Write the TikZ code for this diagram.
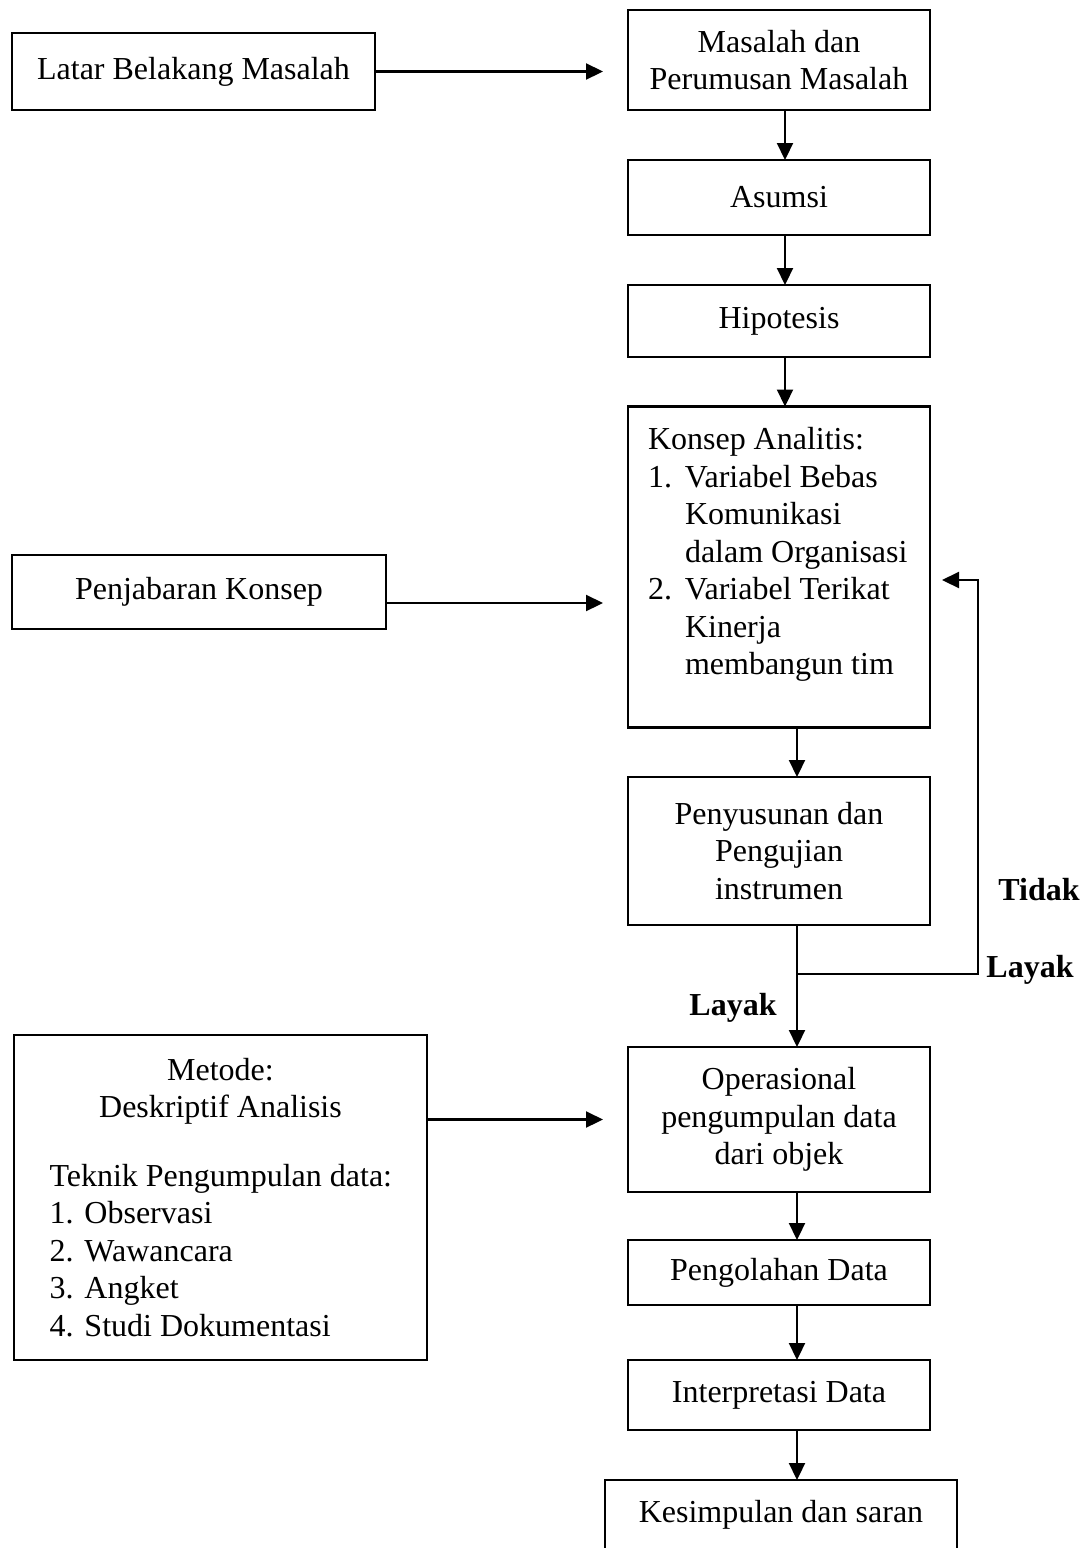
\documentclass[tikz,border=0pt]{standalone}
\usepackage{fontspec}
\setmainfont{Liberation Serif}
\usetikzlibrary{arrows.meta}
\begin{document}
\begin{tikzpicture}[x=1pt,y=-1pt,
  every node/.style={font=\fontsize{32}{37.5}\selectfont},
  box/.style={draw, line width=2.2pt, inner sep=0pt, outer sep=0pt, align=center},
  arr/.style={line width=2.2pt, -{Triangle[length=17pt,width=16pt]}},
  lbl/.style={font=\fontsize{32}{37.5}\selectfont\bfseries}
]
\useasboundingbox (0,0) rectangle (1083,1548);
\fill[white] (0,0) rectangle (1083,1548);

% left column
\node[box, minimum width=363pt, minimum height=77pt] (latar) at (193.5,71.5) {Latar Belakang Masalah};
\node[box, minimum width=374pt, minimum height=74pt] (penj) at (199,592) {Penjabaran Konsep};
\node[box, minimum width=413pt, minimum height=325pt] (metode) at (220.5,1197.5)
  {\parbox{342pt}{\centering Metode:\\Deskriptif Analisis\par\vspace{31pt}\raggedright
   \mbox{Teknik Pengumpulan data:}\par
   \makebox[35pt][l]{1.}Observasi\par
   \makebox[35pt][l]{2.}Wawancara\par
   \makebox[35pt][l]{3.}Angket\par
   \makebox[35pt][l]{4.}Studi Dokumentasi\par}};

% right column
\node[box, minimum width=302pt, minimum height=100pt] (masalah) at (779,60) {Masalah dan\\Perumusan Masalah};
\node[box, minimum width=302pt, minimum height=75pt] (asumsi) at (779,197.5) {Asumsi};
\node[box, minimum width=302pt, minimum height=72pt] (hipo) at (779,321) {Hipotesis};
\node[box, minimum width=302pt, minimum height=321pt] (konsep) at (779,567)
  {\parbox[c][321pt][t]{282pt}{\raggedright\leftskip=10pt\vspace*{21pt}Konsep Analitis:\par
   \makebox[37pt][l]{1.}Variabel Bebas\par
   \hspace*{37pt}Komunikasi\par
   \hspace*{37pt}dalam Organisasi\par
   \makebox[37pt][l]{2.}Variabel Terikat\par
   \hspace*{37pt}Kinerja\par
   \hspace*{37pt}membangun tim\par}};
\node[box, minimum width=302pt, minimum height=148pt] (penyusunan) at (779,851) {Penyusunan dan\\Pengujian\\instrumen};
\node[box, minimum width=302pt, minimum height=145pt] (operasional) at (779,1119.5) {Operasional\\pengumpulan data\\dari objek};
\node[box, minimum width=302pt, minimum height=65pt] (pengolahan) at (779,1272.5) {Pengolahan Data};
\node[box, minimum width=302pt, minimum height=70pt] (interp) at (779,1395) {Interpretasi Data};
\node[box, minimum width=352pt, minimum height=120pt] (kesimpulan) at (781,1540)
  {\parbox[c][120pt][t]{340pt}{\centering\vspace*{20pt}Kesimpulan dan saran\par}};

% labels
\node[lbl] (tidak) at (1039,890) {Tidak};
\node[lbl] (layak1) at (1030,970) {Layak};
\node[lbl] (layak2) at (733,1008) {Layak};

% horizontal arrows
\draw[arr, shorten >=25pt] (latar.east) -- (latar.east -| masalah.west);
\draw[arr, shorten >=25pt] ([yshift=-11pt]penj.east) -- ([yshift=-11pt]penj.east -| konsep.west);
\draw[arr, shorten >=25pt] (metode.east |- operasional.west) -- (operasional.west);

% vertical arrows
\draw[arr] ([xshift=6pt]masalah.south) -- ([xshift=6pt]asumsi.north);
\draw[arr] ([xshift=6pt]asumsi.south) -- ([xshift=6pt]hipo.north);
\draw[arr] ([xshift=6pt]hipo.south) -- ([xshift=6pt]konsep.north);
\draw[arr] ([xshift=18pt]konsep.south) -- ([xshift=18pt]penyusunan.north);
\draw[arr] ([xshift=18pt]penyusunan.south) -- ([xshift=18pt]operasional.north);
\draw[arr] ([xshift=18pt]operasional.south) -- ([xshift=18pt]pengolahan.north);
\draw[arr] ([xshift=18pt]pengolahan.south) -- ([xshift=18pt]interp.north);
\draw[arr] ([xshift=18pt]interp.south) -- ([xshift=18pt]interp.south |- kesimpulan.north);

% feedback loop
\coordinate (j) at (797,974);
\coordinate (fbk) at (978,974);
\coordinate (fbtip) at (942,580);
\draw[arr] (j) -- (fbk) |- (fbtip);
\end{tikzpicture}
\end{document}
